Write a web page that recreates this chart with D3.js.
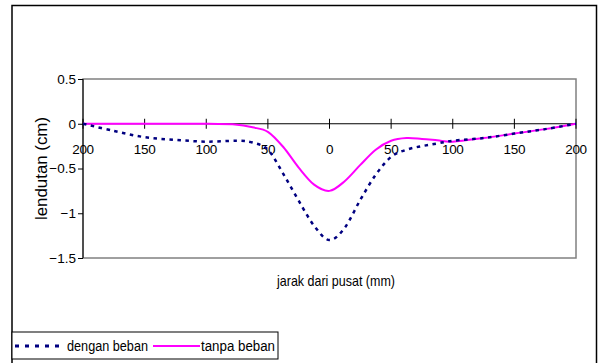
<!DOCTYPE html>
<html>
<head>
<meta charset="utf-8">
<script src="https://cdn.jsdelivr.net/npm/d3@7"></script>
<style>
  body { margin: 0; background: #fff; }
  svg text { font-family: "Liberation Sans", Arial, sans-serif; font-size: 13px; fill: #000; }
</style>
</head>
<body>
<div id="chart"></div>
<script>
// jarak dari pusat (mm)
var jarak = [-200, -175, -150, -125, -100, -75, -62.5, -50, -37.5, -25, -12.5, 0, 12.5, 25, 37.5, 50, 62.5, 75, 87.5, 100, 125, 150, 175, 200]
// lendutan (cm)
var denganBeban = [0, -0.08, -0.15, -0.18, -0.20, -0.19, -0.21, -0.29, -0.56, -0.86, -1.14, -1.30, -1.16, -0.85, -0.57, -0.37, -0.29, -0.25, -0.22, -0.19, -0.16, -0.11, -0.06, 0]
var tanpaBeban = [0, 0, 0, 0, 0, -0.01, -0.04, -0.09, -0.26, -0.49, -0.68, -0.75, -0.64, -0.46, -0.29, -0.19, -0.16, -0.17, -0.185, -0.20, -0.16, -0.11, -0.06, 0]

var xTicks = [-200, -150, -100, -50, 0, 50, 100, 150, 200]
var yTicks = [0.5, 0, -0.5, -1, -1.5]

var width = 602, height = 363
var plot = {left: 83, right: 576, top: 79, bottom: 258}

var svg = d3.select('#chart')
    .append('svg')
        .attr('width', width)
        .attr('height', height)

// outer chart frame
svg.append('rect')
    .attr('x', 12).attr('y', 5.5)
    .attr('width', 584.5).attr('height', 370)
    .style('fill', 'none')
    .style('stroke', '#000')
    .style('stroke-width', 1.5)

var x = d3.scaleLinear().domain([-200, 200]).range([plot.left, plot.right])
var y = d3.scaleLinear().domain([-1.5, 0.5]).range([plot.bottom, plot.top])

// plot area border (grey)
svg.append('rect')
    .attr('x', plot.left).attr('y', plot.top)
    .attr('width', plot.right - plot.left)
    .attr('height', plot.bottom - plot.top)
    .style('fill', 'none')
    .style('stroke', '#808080')
    .style('stroke-width', 1.5)

// y axis
var yAxis = svg.append('g')
    .attr('transform', 'translate(' + plot.left + ',0)')
    .call(d3.axisLeft(y)
        .tickValues(yTicks)
        .tickSize(5)
        .tickPadding(2)
        .tickFormat(function(d){ return d3.format('')(d) }))
yAxis.select('.domain').remove()
yAxis.selectAll('line').style('stroke', '#000')
yAxis.attr('font-size', null).attr('font-family', null)
yAxis.selectAll('text').style('font-size', '13.5px')
svg.append('line')
    .attr('x1', plot.left).attr('x2', plot.left)
    .attr('y1', plot.top).attr('y2', plot.bottom)
    .style('stroke', '#000')

// x axis on the zero line, ticks cross the line
var zeroY = y(0)
svg.append('line')
    .attr('x1', plot.left).attr('x2', plot.right)
    .attr('y1', zeroY).attr('y2', zeroY)
    .style('stroke', '#000')

var xt = svg.append('g').selectAll('g')
    .data(xTicks).enter()
    .append('g')
    .attr('transform', function(d){ return 'translate(' + x(d) + ',' + zeroY + ')' })
xt.append('line')
    .attr('y1', -5).attr('y2', 5)
    .style('stroke', '#000')
xt.append('text')
    .attr('y', 30)
    .attr('text-anchor', 'middle')
    .style('font-size', '13.5px')
    .style('letter-spacing', '-0.3px')
    .text(function(d){ return Math.abs(d) })

// axis titles (squeezed like the original)
svg.append('text')
    .attr('transform', 'translate(47,' + ((plot.top + plot.bottom) / 2) + ') rotate(-90)')
    .attr('text-anchor', 'middle')
    .attr('textLength', 103)
    .attr('lengthAdjust', 'spacingAndGlyphs')
    .style('font-size', '16px')
    .text('lendutan (cm)')

svg.append('text')
    .attr('x', 336).attr('y', 286)
    .attr('text-anchor', 'middle')
    .attr('textLength', 118)
    .attr('lengthAdjust', 'spacingAndGlyphs')
    .style('font-size', '15px')
    .text('jarak dari pusat (mm)')

// series
var line = d3.line()
    .x(function(d){ return x(d[0]) })
    .y(function(d){ return y(d[1]) })
    .curve(d3.curveCardinal.tension(0))

svg.append('path')
    .datum(d3.zip(jarak, tanpaBeban))
    .attr('d', line)
    .style('fill', 'none')
    .style('stroke', '#ff00ff')
    .style('stroke-width', 2)

svg.append('path')
    .datum(d3.zip(jarak, denganBeban))
    .attr('d', line)
    .style('fill', 'none')
    .style('stroke', '#000080')
    .style('stroke-width', 2.5)
    .style('stroke-dasharray', '3.5,4.5')

// legend
var lg = svg.append('g')
lg.append('rect')
    .attr('x', 12).attr('y', 332)
    .attr('width', 266).attr('height', 27)
    .style('fill', '#fff')
    .style('stroke', '#000')
lg.append('line')
    .attr('x1', 15).attr('x2', 64)
    .attr('y1', 346).attr('y2', 346)
    .style('stroke', '#000080')
    .style('stroke-width', 3)
    .style('stroke-dasharray', '4,6')
lg.append('text')
    .attr('x', 67).attr('y', 350.5)
    .attr('textLength', 81)
    .attr('lengthAdjust', 'spacingAndGlyphs')
    .style('font-size', '14px')
    .text('dengan beban')
lg.append('line')
    .attr('x1', 153).attr('x2', 200)
    .attr('y1', 346).attr('y2', 346)
    .style('stroke', '#ff00ff')
    .style('stroke-width', 2)
lg.append('text')
    .attr('x', 201).attr('y', 350.5)
    .attr('textLength', 74)
    .attr('lengthAdjust', 'spacingAndGlyphs')
    .style('font-size', '14px')
    .text('tanpa beban')
</script>
</body>
</html>
